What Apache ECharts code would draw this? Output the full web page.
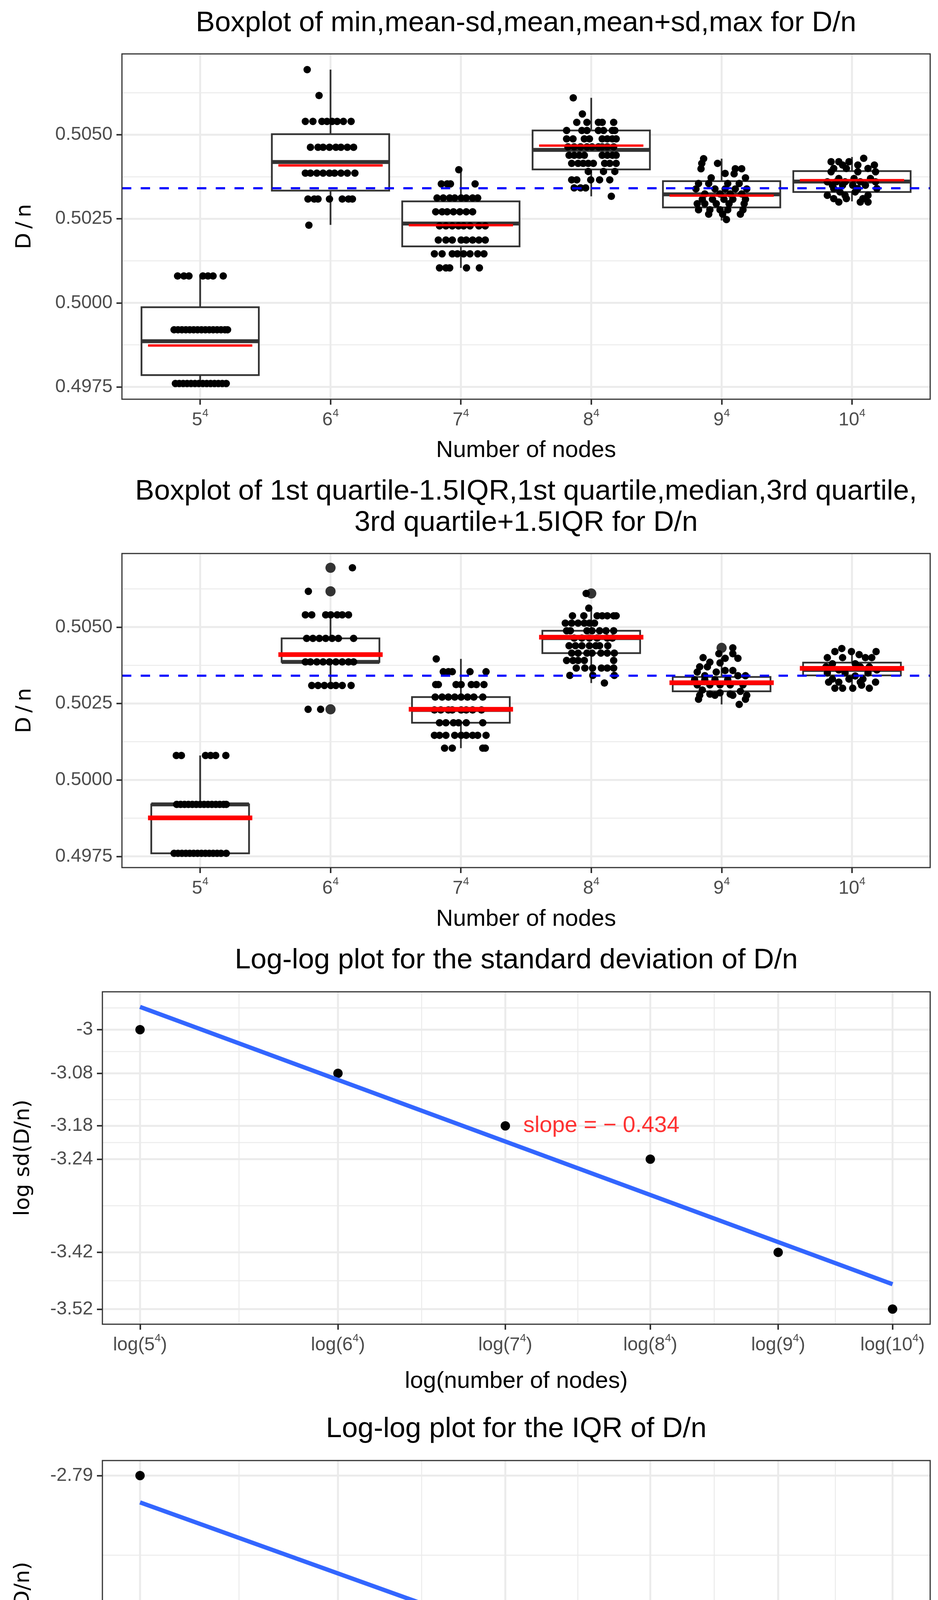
<!DOCTYPE html>
<html>
<head>
<meta charset="utf-8">
<script src="https://cdn.jsdelivr.net/npm/echarts@6.0.0/dist/echarts.min.js"></script>
<style>
  html, body { margin: 0; padding: 0; background: #fff; }
  #chart { width: 2400px; height: 4800px; }
</style>
</head>
<body>
<div id="chart"></div>
<script>
// ---- categories / ticks ----
const nodeBases = ['5', '6', '7', '8', '9', '10'];
const nodeCats = [1, 2, 3, 4, 5, 6];
const boxYTicks = [0.4975, 0.5, 0.5025, 0.505];
const boxYMinor = [0.49875, 0.50125, 0.50375, 0.50625];
const boxYRange = [0.497133, 0.507407];
const catRange = [0.4, 6.6];

// ---- panel 1: min, mean-sd, mean, mean+sd, max ----
const sdMin   = [0.4976, 0.50232, 0.50104, 0.50317, 0.50245, 0.50302];
const sdLower = [0.49785, 0.50334, 0.50168, 0.50397, 0.50284, 0.50330];
const sdMid   = [0.49886, 0.50419, 0.50236, 0.50455, 0.50323, 0.50361];
const sdUpper = [0.49987, 0.50502, 0.50302, 0.50513, 0.50362, 0.50392];
const sdMax   = [0.5008, 0.50694, 0.50396, 0.50610, 0.50429, 0.50434];
const sdRed   = [0.49873, 0.50409, 0.50231, 0.50468, 0.50319, 0.50365];

// ---- panel 2: classic boxplot ----
const iqrLow  = [0.4976, 0.50309, 0.50104, 0.50317, 0.50247, 0.5030];
const iqrQ1   = [0.4976, 0.50386, 0.50187, 0.50415, 0.50290, 0.50342];
const iqrMed  = [0.4992, 0.50386, 0.50229, 0.50464, 0.50316, 0.5036];
const iqrQ3   = [0.4992, 0.50463, 0.50271, 0.50488, 0.50337, 0.50384];
const iqrHigh = [0.5008, 0.50540, 0.50396, 0.50562, 0.50400, 0.5043];
const iqrMean = [0.49876, 0.50410, 0.50231, 0.50467, 0.50318, 0.50365];
const iqrOutCat = [2, 2, 2, 4, 5];
const iqrOutVal = [0.50694, 0.50617, 0.50231, 0.50610, 0.50432];

const refLine = 0.50341;

// ---- jittered observations, panel 1 ([value, offsets] rows or [offset, value] pairs) ----
const top5 = [
  [0.5008, [-0.173, -0.125, -0.086, 0.021, 0.060, 0.099, 0.177]],
  [0.4992, [-0.20, -0.17, -0.14, -0.11, -0.08, -0.05, -0.02, 0.01, 0.04, 0.07, 0.10, 0.13, 0.16, 0.19, 0.21]],
  [0.4976, [-0.19, -0.16, -0.13, -0.10, -0.07, -0.04, -0.01, 0.02, 0.05, 0.08, 0.11, 0.14, 0.17, 0.20]]
];
const top6 = [
  [0.50694, [-0.179]],
  [0.50617, [-0.088]],
  [0.50540, [-0.193, -0.135, -0.066, -0.027, 0.012, 0.051, 0.099, 0.158]],
  [0.50463, [-0.154, -0.096, -0.057, -0.008, 0.041, 0.080, 0.129, 0.177]],
  [0.50386, [-0.193, -0.154, -0.105, -0.057, -0.008, 0.031, 0.080, 0.129, 0.187]],
  [0.50309, [-0.173, -0.125, -0.096, -0.008, 0.090, 0.138, 0.168]],
  [0.50231, [-0.166]]
];
const top7 = [
  [0.50396, [-0.016]],
  [0.50354, [-0.150, -0.105, -0.080, 0.109]],
  [0.50312, [-0.183, -0.135, -0.086, -0.047, 0.002, 0.041, 0.090, 0.129]],
  [0.50271, [-0.193, -0.144, -0.105, -0.057, -0.008, 0.041, 0.090]],
  [0.50229, [-0.164, -0.115, -0.066, -0.018, 0.021, 0.070, 0.138, 0.187]],
  [0.50187, [-0.173, -0.115, -0.066, 0.002, 0.041, 0.090, 0.138, 0.187]],
  [0.50146, [-0.203, -0.144, -0.066, -0.027, 0.021, 0.070, 0.129, 0.177]],
  [0.50104, [-0.164, -0.115, -0.086, 0.043, 0.142]]
];
const top8 = [
  [0.50610, [-0.138]],
  [0.50562, [-0.068]],
  [0.50537, [-0.111, -0.033, 0.055, 0.084, 0.172]],
  [0.50513, [-0.189, -0.072, -0.033, 0.055, 0.094, 0.162, 0.181]],
  [0.50488, [-0.189, -0.140, -0.053, -0.014, 0.084, 0.123, 0.162, 0.191]],
  [0.50464, [-0.179, -0.131, -0.082, -0.033, 0.006, 0.055, 0.084, 0.123, 0.172]],
  [0.50439, [-0.170, -0.131, -0.092, -0.053, 0.084, 0.123, 0.162, 0.191]],
  [0.50415, [-0.150, -0.101, -0.062, -0.023, 0.016, 0.103, 0.142, 0.191]],
  [0.50391, [-0.023, 0.094, 0.181]],
  [0.50366, [-0.150, -0.111, -0.004, 0.064, 0.142]],
  [0.50342, [-0.131, -0.082, -0.043]],
  [0.50317, [0.154]]
];
const top9 = [
  [-0.138, 0.50429], [-0.152, 0.50415], [-0.031, 0.50415], [-0.158, 0.50399], [0.105, 0.50399], [0.154, 0.50399],
  [0.027, 0.50385], [0.096, 0.50384], [-0.080, 0.50372], [0.183, 0.50372],
  [-0.177, 0.50355], [-0.099, 0.50355], [0.047, 0.50355], [0.135, 0.50355],
  [-0.197, 0.50339], [-0.051, 0.50339], [0.027, 0.50339], [0.105, 0.50339], [0.193, 0.50339],
  [-0.129, 0.50324], [-0.012, 0.50324], [0.066, 0.50324], [0.154, 0.50324],
  [-0.148, 0.50308], [-0.070, 0.50308], [0.018, 0.50308], [0.086, 0.50308], [0.183, 0.50308],
  [-0.187, 0.50295], [-0.129, 0.50295], [-0.041, 0.50295], [0.057, 0.50295], [0.173, 0.50295],
  [-0.177, 0.50277], [-0.090, 0.50277], [-0.012, 0.50277], [0.047, 0.50277], [0.164, 0.50277],
  [-0.099, 0.50264], [0.008, 0.50264], [0.144, 0.50264], [0.037, 0.50248]
];
const top10 = [
  [0.090, 0.5043], [-0.160, 0.5042], [-0.101, 0.5042], [-0.023, 0.5042], [-0.072, 0.5041], [0.045, 0.5041], [0.172, 0.5041],
  [-0.140, 0.5040], [-0.043, 0.5040], [0.123, 0.5040], [-0.160, 0.5039], [0.045, 0.5039], [0.181, 0.5039],
  [-0.101, 0.5037], [0.016, 0.5037], [0.142, 0.5037], [-0.189, 0.5036], [-0.121, 0.5036], [-0.053, 0.5036], [0.064, 0.5036], [0.181, 0.5036],
  [-0.150, 0.5035], [-0.072, 0.5035], [0.006, 0.5035], [0.103, 0.5035], [-0.140, 0.5034], [0.045, 0.5034], [0.191, 0.5034],
  [-0.092, 0.5033], [0.025, 0.5033], [-0.189, 0.5032], [-0.053, 0.5032], [0.123, 0.5032],
  [-0.140, 0.5031], [-0.043, 0.5031], [0.084, 0.5031], [-0.101, 0.5030], [0.064, 0.5030], [0.123, 0.5030]
];

// ---- jittered observations, panel 2 ----
const mid5 = [
  [0.5008, [-0.183, -0.144, 0.041, 0.080, 0.119, 0.197]],
  [0.4992, [-0.18, -0.15, -0.12, -0.09, -0.06, -0.03, 0.00, 0.03, 0.06, 0.09, 0.12, 0.15, 0.18, 0.20]],
  [0.4976, [-0.20, -0.17, -0.14, -0.11, -0.08, -0.05, -0.02, 0.01, 0.04, 0.07, 0.10, 0.13, 0.16, 0.20]]
];
const mid6 = [
  [0.50694, [0.168]],
  [0.50617, [-0.170]],
  [0.50540, [-0.193, -0.144, -0.037, 0.002, 0.051, 0.090, 0.138]],
  [0.50463, [-0.183, -0.135, -0.086, -0.037, 0.012, 0.060, 0.177]],
  [0.50386, [-0.193, -0.154, -0.105, -0.057, -0.008, 0.041, 0.090, 0.138, 0.177]],
  [0.50309, [-0.144, -0.096, -0.047, 0.002, 0.041, 0.090, 0.158]],
  [0.50231, [-0.172, -0.076]]
];
const mid7 = [
  [0.50396, [-0.189]],
  [0.50354, [-0.135, -0.096, -0.066, 0.070, 0.193]],
  [0.50312, [-0.193, -0.173, -0.037, 0.002, 0.080, 0.119, 0.177]],
  [0.50271, [-0.197, -0.144, -0.096, -0.047, 0.002, 0.051, 0.099, 0.168]],
  [0.50229, [-0.203, -0.154, -0.096, -0.066, 0.002, 0.041, 0.090, 0.158]],
  [0.50187, [-0.164, -0.115, -0.057, -0.018, 0.041, 0.168]],
  [0.50146, [-0.203, -0.164, -0.115, -0.047, 0.002, 0.041, 0.090, 0.129, 0.193]],
  [0.50104, [-0.125, -0.066, 0.168, 0.187]]
];
const mid8 = [
  [0.50610, [-0.039]],
  [0.50562, [-0.019]],
  [0.50537, [-0.144, -0.057, 0.045, 0.084, 0.123, 0.172, 0.191]],
  [0.50513, [-0.199, -0.150, -0.101, -0.053, -0.014, 0.025]],
  [0.50488, [-0.189, -0.160, -0.033, 0.006, 0.064, 0.113, 0.172]],
  [0.50464, [-0.131, -0.072, -0.014, 0.045, 0.123, 0.162]],
  [0.50439, [-0.170, -0.121, -0.072, -0.014, 0.035, 0.064, 0.127]],
  [0.50415, [-0.150, -0.101, -0.033, 0.006, 0.074, 0.123, 0.177]],
  [0.50391, [-0.189, -0.140, -0.101, -0.053, 0.172]],
  [0.50366, [-0.115, -0.049, 0.010, 0.078, 0.123, 0.172]],
  [0.50342, [-0.164, 0.012, 0.177]],
  [0.50317, [0.101]]
];
const mid9 = [
  [-0.142, 0.50400], [-0.090, 0.50385], [-0.021, 0.50413], [0.027, 0.50398], [0.086, 0.50432], [0.086, 0.50413], [0.125, 0.50398],
  [-0.168, 0.50370], [-0.109, 0.50370], [-0.012, 0.50383], [-0.187, 0.50353], [-0.129, 0.50341], [-0.041, 0.50353], [0.027, 0.50358], [0.086, 0.50358],
  [-0.207, 0.50328], [-0.129, 0.50328], [-0.051, 0.50328], [0.047, 0.50328], [0.125, 0.50341], [0.183, 0.50341],
  [-0.187, 0.50311], [-0.090, 0.50311], [-0.012, 0.50311], [0.066, 0.50311], [0.164, 0.50311],
  [-0.148, 0.50294], [-0.090, 0.50281], [-0.012, 0.50285], [0.066, 0.50281], [0.144, 0.50290], [0.193, 0.50277],
  [-0.168, 0.50277], [-0.177, 0.50264], [-0.051, 0.50277], [0.086, 0.50277], [0.183, 0.50264], [0.135, 0.50247]
];
const mid10 = [
  [-0.078, 0.5043], [-0.131, 0.5042], [-0.004, 0.5042], [0.055, 0.5041], [0.185, 0.5042],
  [-0.189, 0.5040], [-0.072, 0.5040], [0.103, 0.5040], [0.152, 0.5040], [-0.150, 0.5038], [0.025, 0.5038], [0.133, 0.5037],
  [-0.199, 0.5037], [-0.101, 0.5036], [0.064, 0.5037], [0.191, 0.5036], [-0.189, 0.5035], [-0.053, 0.5035], [0.025, 0.5034], [0.123, 0.5035],
  [-0.150, 0.5033], [-0.023, 0.5033], [0.084, 0.5033], [-0.179, 0.5032], [-0.101, 0.5032], [0.064, 0.5032], [0.181, 0.5032],
  [-0.131, 0.5030], [-0.072, 0.5030], [0.006, 0.5030], [0.133, 0.5030], [0.074, 0.5031]
];

// ---- log-log panels ----
const logNodes = [2.79588, 3.11261, 3.38039, 3.61236, 3.81697, 4.0];
const logNodesMinor = [2.95425, 3.2465, 3.49638, 3.71467, 3.90849];
const logXRange = [2.73567, 4.0602];

const logSd = [-3.000, -3.0811, -3.1789, -3.2410, -3.4143, -3.520];
const logSdLabels = ['-3', '-3.08', '-3.18', '-3.24', '-3.42', '-3.52'];
const logSdMinor = [-2.95945, -3.04055, -3.13, -3.20995, -3.32765, -3.46715];
const logSdFit = [-2.9575, -3.4737];
const logSdRange = [-3.5481, -2.9294];
const sdSlopeText = 'slope = \u2212 0.434';
const sdSlopeAt = [3.534, -3.179];

const logIqr = [-2.790, -3.112, -3.078, -3.1335, -3.341, -3.400];
const logIqrLabels = ['-2.79', '-3.11', '-3.08', '-3.13', '-3.34', '-3.4'];
const logIqrMinor = [-2.951, -3.095, -3.1058, -3.2373, -3.3705];
const logIqrFit = [-2.8442, -3.3906];
const logIqrRange = [-3.4305, -2.7595];
const iqrSlopeText = 'slope = \u2212 0.449';
const iqrSlopeAt = [3.534, -3.0765];

// ---- styling ----
const SANS = '"Liberation Sans", Arial, Helvetica, sans-serif';
const MATH = '"DejaVu Sans", Verdana, sans-serif';
const TICK_COLOR = '#4D4D4D';
const GRID_COLOR = '#EBEBEB';
const DARK = '#333333';

const rowsToPoints = (cat, rows) => {
  const out = [];
  rows.forEach(([v, dxs]) => dxs.forEach(dx => out.push([cat + dx, v])));
  return out;
};
const pairsToPoints = (cat, pairs) => pairs.map(([dx, v]) => [cat + dx, v]);

const topPoints = [].concat(
  rowsToPoints(1, top5), rowsToPoints(2, top6), rowsToPoints(3, top7),
  rowsToPoints(4, top8), pairsToPoints(5, top9), pairsToPoints(6, top10)
);
const midPoints = [].concat(
  rowsToPoints(1, mid5), rowsToPoints(2, mid6), rowsToPoints(3, mid7),
  rowsToPoints(4, mid8), pairsToPoints(5, mid9), pairsToPoints(6, mid10)
);

const supRich = {
  b: { fontSize: 48, fontFamily: SANS, color: TICK_COLOR, lineHeight: 56, verticalAlign: 'middle' },
  s: { fontSize: 28, fontFamily: SANS, color: TICK_COLOR, lineHeight: 28, padding: [0, 0, 35, 0], verticalAlign: 'middle' }
};

function gridLineSeries(idx, hVals, vVals, width, xr, yr) {
  const data = hVals.map(v => [0, v]).concat(vVals.map(v => [1, v]));
  return {
    type: 'custom', xAxisIndex: idx, yAxisIndex: idx, z: 1, silent: true,
    data,
    renderItem: (params, api) => {
      const cs = params.coordSys;
      const kind = api.value(0), v = api.value(1);
      const style = { stroke: GRID_COLOR, lineWidth: width, fill: null };
      if (kind === 0) {
        const y = api.coord([xr[0], v])[1];
        return { type: 'line', shape: { x1: cs.x, y1: y, x2: cs.x + cs.width, y2: y }, style };
      }
      const x = api.coord([v, yr[0]])[0];
      return { type: 'line', shape: { x1: x, y1: cs.y, x2: x, y2: cs.y + cs.height }, style };
    }
  };
}

function refLineSeries(idx, v) {
  return {
    type: 'custom', xAxisIndex: idx, yAxisIndex: idx, z: 6, silent: true,
    data: [[catRange[0], v]],
    renderItem: (params, api) => {
      const cs = params.coordSys;
      const y = api.coord([api.value(0), api.value(1)])[1];
      return { type: 'line', shape: { x1: cs.x, y1: y, x2: cs.x + cs.width, y2: y },
        style: { stroke: '#0000FF', lineWidth: 5.5, lineDash: [24, 24], fill: null } };
    }
  };
}

function boxSeries(idx, lo, q1, md, q3, hi, halfW, lineW, midW) {
  return {
    type: 'custom', xAxisIndex: idx, yAxisIndex: idx, z: 2, silent: true,
    data: nodeCats.map((c, i) => [c, lo[i], q1[i], md[i], q3[i], hi[i]]),
    renderItem: (params, api) => {
      const c = api.value(0);
      const p = k => api.coord([c, api.value(k)]);
      const pLo = p(1), pQ1 = p(2), pMd = p(3), pQ3 = p(4), pHi = p(5);
      const left = api.coord([c - halfW, api.value(3)])[0];
      const right = api.coord([c + halfW, api.value(3)])[0];
      const st = { stroke: DARK, lineWidth: lineW, fill: null };
      return {
        type: 'group',
        children: [
          { type: 'line', shape: { x1: pLo[0], y1: pLo[1], x2: pQ1[0], y2: pQ1[1] }, style: st },
          { type: 'line', shape: { x1: pQ3[0], y1: pQ3[1], x2: pHi[0], y2: pHi[1] }, style: st },
          { type: 'rect', shape: { x: left, y: pQ3[1], width: right - left, height: pQ1[1] - pQ3[1] },
            style: { stroke: DARK, lineWidth: lineW, fill: '#FFFFFF' } },
          { type: 'line', shape: { x1: left, y1: pMd[1], x2: right, y2: pMd[1] },
            style: { stroke: DARK, lineWidth: midW, fill: null } }
        ]
      };
    }
  };
}

function meanSeries(idx, vals, halfW, lineW) {
  return {
    type: 'custom', xAxisIndex: idx, yAxisIndex: idx, z: 5, silent: true,
    data: nodeCats.map((c, i) => [c, vals[i]]),
    renderItem: (params, api) => {
      const a = api.coord([api.value(0) - halfW, api.value(1)]);
      const b = api.coord([api.value(0) + halfW, api.value(1)]);
      return { type: 'line', shape: { x1: a[0], y1: a[1], x2: b[0], y2: b[1] },
        style: { stroke: '#FF0000', lineWidth: lineW, fill: null } };
    }
  };
}

const tickStyle = { show: true, length: 14, lineStyle: { color: DARK, width: 4 } };

function catXAxis(idx) {
  return {
    gridIndex: idx, type: 'value', min: catRange[0], max: catRange[1],
    axisLine: { show: false }, splitLine: { show: false },
    axisTick: Object.assign({ customValues: nodeCats }, tickStyle),
    axisLabel: {
      customValues: nodeCats, margin: 26, rich: supRich,
      formatter: v => '{b|' + nodeBases[Math.round(v) - 1] + '}{s|4}'
    }
  };
}
function boxYAxis(idx) {
  return {
    gridIndex: idx, type: 'value', min: boxYRange[0], max: boxYRange[1],
    axisLine: { show: false }, splitLine: { show: false },
    axisTick: Object.assign({ customValues: boxYTicks }, tickStyle),
    axisLabel: { customValues: boxYTicks, margin: 24, color: TICK_COLOR, fontSize: 48, fontFamily: SANS,
      formatter: v => v.toFixed(4) }
  };
}
function logXAxis(idx) {
  return {
    gridIndex: idx, type: 'value', min: logXRange[0], max: logXRange[1],
    axisLine: { show: false }, splitLine: { show: false },
    axisTick: Object.assign({ customValues: logNodes }, tickStyle),
    axisLabel: {
      customValues: logNodes, margin: 26, rich: supRich,
      formatter: v => {
        const i = logNodes.findIndex(t => Math.abs(t - v) < 1e-6);
        return '{b|log(' + nodeBases[i] + '}{s|4}{b|)}';
      }
    }
  };
}
function logYAxis(idx, vals, labels, range) {
  return {
    gridIndex: idx, type: 'value', min: range[0], max: range[1],
    axisLine: { show: false }, splitLine: { show: false },
    axisTick: Object.assign({ customValues: vals }, tickStyle),
    axisLabel: { customValues: vals, margin: 24, color: TICK_COLOR, fontSize: 48, fontFamily: SANS,
      formatter: v => labels[vals.findIndex(t => Math.abs(t - v) < 1e-6)] }
  };
}

function text(str, x, y, size, family, rot) {
  return {
    type: 'text', x, y, rotation: rot || 0, silent: true,
    style: {
      text: str, fontSize: size, fontFamily: family, fill: '#000000',
      align: 'center', verticalAlign: 'middle', textAlign: 'center', textVerticalAlign: 'middle'
    }
  };
}

const dot = color => ({ color, opacity: 1 });
const gridBase = { show: true, borderColor: DARK, borderWidth: 3, backgroundColor: 'transparent', z: 10, containLabel: false };

const chart = echarts.init(document.getElementById('chart'), null, { renderer: 'canvas' });
chart.setOption({
  animation: false,
  backgroundColor: '#FFFFFF',
  grid: [
    Object.assign({ left: 312, top: 138, width: 2068, height: 884 }, gridBase),
    Object.assign({ left: 312, top: 1417, width: 2068, height: 804 }, gridBase),
    Object.assign({ left: 262, top: 2539, width: 2118, height: 851 }, gridBase),
    Object.assign({ left: 262, top: 3739, width: 2118, height: 849 }, gridBase)
  ],
  xAxis: [catXAxis(0), catXAxis(1), logXAxis(2), logXAxis(3)],
  yAxis: [
    boxYAxis(0), boxYAxis(1),
    logYAxis(2, logSd, logSdLabels, logSdRange),
    logYAxis(3, logIqr, logIqrLabels, logIqrRange)
  ],
  graphic: [
    text('Boxplot of min,mean-sd,mean,mean+sd,max for D/n', 1346, 60, 73, SANS),
    text('Boxplot of 1st quartile-1.5IQR,1st quartile,median,3rd quartile,', 1346, 1259, 73, SANS),
    text('3rd quartile+1.5IQR for D/n', 1346, 1339, 73, SANS),
    text('Log-log plot for the standard deviation of D/n', 1321, 2459, 73, SANS),
    text('Log-log plot for the IQR of D/n', 1321, 3659, 73, SANS),
    text('Number of nodes', 1346, 1153, 60, SANS),
    text('Number of nodes', 1346, 2353, 60, SANS),
    text('log(number of nodes)', 1321, 3536, 60, SANS),
    text('log(number of nodes)', 1321, 4736, 60, SANS),
    text('D\u2009/\u2009n', 64, 580, 54, MATH, Math.PI / 2),
    text('D\u2009/\u2009n', 64, 1819, 54, MATH, Math.PI / 2),
    text('log sd(D/n)', 60, 2964, 54, MATH, Math.PI / 2),
    text('log IQR(D/n)', 60, 4164, 54, MATH, Math.PI / 2)
  ],
  series: [
    // panel 1
    gridLineSeries(0, boxYMinor, [], 2.5, catRange, boxYRange),
    gridLineSeries(0, boxYTicks, nodeCats, 5, catRange, boxYRange),
    boxSeries(0, sdMin, sdLower, sdMid, sdUpper, sdMax, 0.45, 4.5, 10),
    { type: 'scatter', xAxisIndex: 0, yAxisIndex: 0, z: 3, silent: true, symbolSize: 19,
      itemStyle: dot('#000000'), data: topPoints },
    meanSeries(0, sdRed, 0.4, 6),
    refLineSeries(0, refLine),

    // panel 2
    gridLineSeries(1, boxYMinor, [], 2.5, catRange, boxYRange),
    gridLineSeries(1, boxYTicks, nodeCats, 5, catRange, boxYRange),
    boxSeries(1, iqrLow, iqrQ1, iqrMed, iqrQ3, iqrHigh, 0.375, 4.5, 10),
    { type: 'scatter', xAxisIndex: 1, yAxisIndex: 1, z: 2, silent: true, symbolSize: 26,
      itemStyle: dot(DARK), data: iqrOutCat.map((c, i) => [c, iqrOutVal[i]]) },
    { type: 'scatter', xAxisIndex: 1, yAxisIndex: 1, z: 3, silent: true, symbolSize: 19,
      itemStyle: dot('#000000'), data: midPoints },
    meanSeries(1, iqrMean, 0.4, 12),
    refLineSeries(1, refLine),

    // panel 3
    gridLineSeries(2, logSdMinor, logNodesMinor, 2.5, logXRange, logSdRange),
    gridLineSeries(2, logSd, logNodes, 5, logXRange, logSdRange),
    { type: 'scatter', xAxisIndex: 2, yAxisIndex: 2, z: 3, silent: true, symbolSize: 24,
      itemStyle: dot('#000000'), data: logNodes.map((x, i) => [x, logSd[i]]) },
    { type: 'line', xAxisIndex: 2, yAxisIndex: 2, z: 4, silent: true, symbol: 'none',
      lineStyle: { color: '#3366FF', width: 11 },
      data: [[logNodes[0], logSdFit[0]], [logNodes[logNodes.length - 1], logSdFit[1]]] },
    { type: 'scatter', xAxisIndex: 2, yAxisIndex: 2, z: 5, silent: true, symbolSize: 0,
      data: [sdSlopeAt],
      label: { show: true, position: 'inside', formatter: sdSlopeText, color: '#FF0000',
        fontSize: 58, fontFamily: SANS } },

    // panel 4
    gridLineSeries(3, logIqrMinor, logNodesMinor, 2.5, logXRange, logIqrRange),
    gridLineSeries(3, logIqr, logNodes, 5, logXRange, logIqrRange),
    { type: 'scatter', xAxisIndex: 3, yAxisIndex: 3, z: 3, silent: true, symbolSize: 24,
      itemStyle: dot('#000000'), data: logNodes.map((x, i) => [x, logIqr[i]]) },
    { type: 'line', xAxisIndex: 3, yAxisIndex: 3, z: 4, silent: true, symbol: 'none',
      lineStyle: { color: '#3366FF', width: 11 },
      data: [[logNodes[0], logIqrFit[0]], [logNodes[logNodes.length - 1], logIqrFit[1]]] },
    { type: 'scatter', xAxisIndex: 3, yAxisIndex: 3, z: 5, silent: true, symbolSize: 0,
      data: [iqrSlopeAt],
      label: { show: true, position: 'inside', formatter: iqrSlopeText, color: '#FF0000',
        fontSize: 58, fontFamily: SANS } }
  ]
});
</script>
</body>
</html>
